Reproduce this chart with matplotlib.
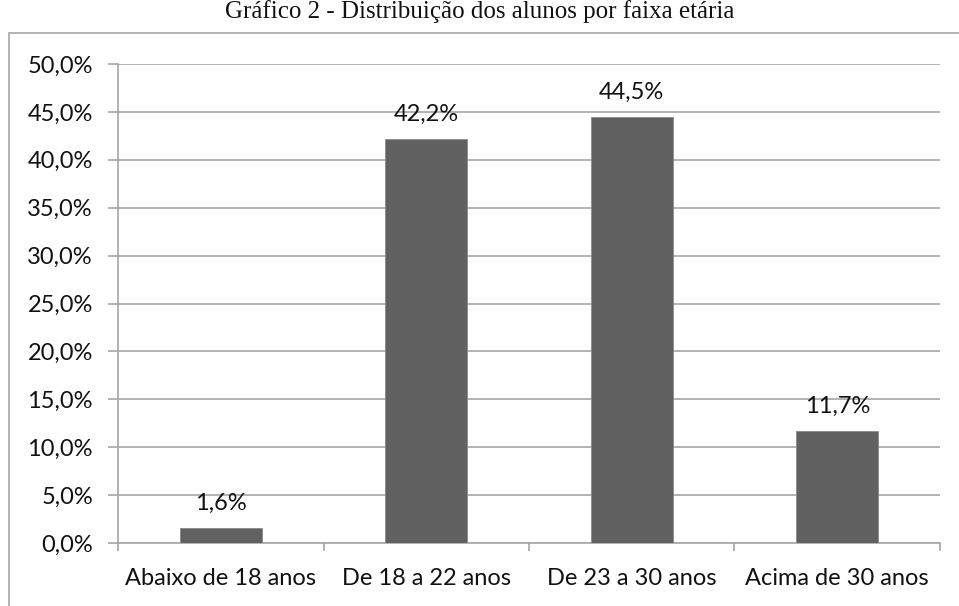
import matplotlib
matplotlib.use("Agg")
import matplotlib.pyplot as plt
from matplotlib.patches import Rectangle
from matplotlib.ticker import FuncFormatter

categorias = ["Abaixo de 18 anos", "De 18 a 22 anos", "De 23 a 30 anos", "Acima de 30 anos"]
valores = [1.6, 42.2, 44.5, 11.7]
rotulos = ["1,6%", "42,2%", "44,5%", "11,7%"]
yticks = [0, 5, 10, 15, 20, 25, 30, 35, 40, 45, 50]

cinza = "#a6a6a6"
fonte = "Lato"
tam = 17

fig = plt.figure(figsize=(9.59, 6.06), dpi=100)
ax = fig.add_axes([118 / 959, 1 - 543 / 606, (940 - 118) / 959, (543 - 64) / 606])

# moldura externa
fig.patches.append(Rectangle((9 / 959, -0.1), 1.0, 1 - 33 / 606 + 0.1, transform=fig.transFigure,
                             fill=False, edgecolor=cinza, linewidth=1.2))

x = list(range(len(categorias)))
ax.bar(x, valores, width=0.4, color="#616161", edgecolor="#8a8a8a", linewidth=0.6, zorder=3)
for xi, v, r in zip(x, valores, rotulos):
    ax.annotate(r, (xi, v), xytext=(0, 10), textcoords="offset points", ha="center", va="bottom",
                fontsize=tam, family=fonte, color="#111111")

ax.set_xlim(-0.5, 3.5)
ax.set_ylim(0, 50)
ax.set_yticks(yticks)
ax.yaxis.set_major_formatter(FuncFormatter(lambda v, p: f"{v:.1f}%".replace(".", ",")))
ax.set_xticks(x)
ax.set_xticklabels(categorias)
ax.set_xticks([-0.5, 0.5, 1.5, 2.5, 3.5], minor=True)
ax.tick_params(axis="x", which="major", length=0, pad=18, labelsize=tam, labelcolor="#111111")
ax.tick_params(axis="x", which="minor", length=6, color=cinza, width=1.2)
ax.tick_params(axis="y", length=7, color=cinza, width=1.2, pad=11, labelsize=tam, labelcolor="#111111")
for lab in ax.get_xticklabels() + ax.get_yticklabels():
    lab.set_family(fonte)

ax.grid(axis="y", color=cinza, linewidth=1.2, zorder=0)
ax.set_axisbelow(True)
for s in ["top", "right"]:
    ax.spines[s].set_visible(False)
for s in ["left", "bottom"]:
    ax.spines[s].set_color(cinza)
    ax.spines[s].set_linewidth(1.2)

fig.text(0.5, 1 - 12 / 606, "Gráfico 2 - Distribuição dos alunos por faixa etária", ha="center", va="center",
         family="Liberation Serif", fontsize=18, color="#111111")

fig.savefig("out.png", dpi=100)
